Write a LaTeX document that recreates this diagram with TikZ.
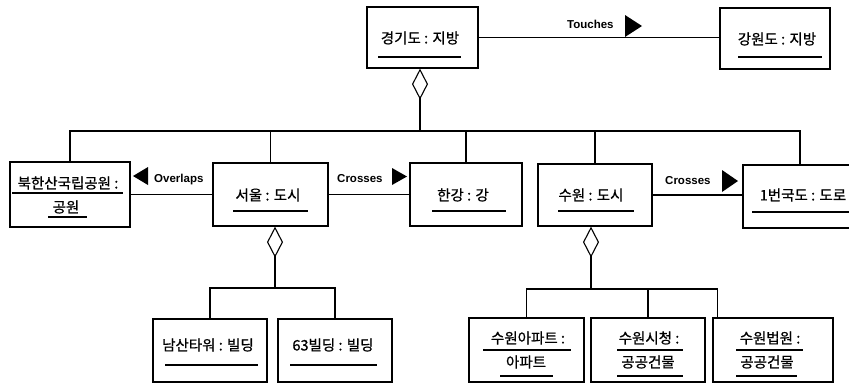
\documentclass[tikz,border=0pt]{standalone}
\usepackage{fontspec}
\setmainfont{Liberation Sans}
\newfontfamily\kr{Noto Sans CJK KR}[FakeBold=0.8]
\usetikzlibrary{arrows.meta}
\tikzset{
  obj/.style={draw, line width=1.2pt, inner sep=0pt},
  txt/.style={font=\kr\fontsize{14.5}{16}\selectfont, inner sep=0pt},
  lbl/.style={font=\bfseries\fontsize{11.5}{13}\selectfont, inner sep=0pt},
  conn/.style={line width=1.1pt},
  diam/.style={conn, {Diamond[open,length=31pt,width=16pt]}-},
  ul/.style={line width=1.1pt},
  tri/.style={fill=black}
}
\begin{document}
\begin{tikzpicture}[x=1pt,y=-1pt]
\useasboundingbox (0,0) rectangle (849,384);
\clip (0,0) rectangle (849,384);
% object boxes
\node[obj, minimum width=111pt, minimum height=61pt] (gg) at (422.5,37.5) {};
\node[obj, minimum width=110pt, minimum height=61pt] (gw) at (775,38.5) {};
\node[obj, minimum width=120pt, minimum height=65pt] (bh) at (70,194.5) {};
\node[obj, minimum width=115pt, minimum height=63pt] (se) at (270.5,194.5) {};
\node[obj, minimum width=112pt, minimum height=63pt] (hg) at (466,194.5) {};
\node[obj, minimum width=114pt, minimum height=62pt] (sw) at (595,195) {};
\node[obj, minimum width=114pt, minimum height=63pt] (ro) at (800,196.5) {};
\node[obj, minimum width=114pt, minimum height=63pt] (ns) at (210,350.5) {};
\node[obj, minimum width=114pt, minimum height=63pt] (b63) at (335,350.5) {};
\node[obj, minimum width=115pt, minimum height=64pt] (sa) at (526.5,350) {};
\node[obj, minimum width=114pt, minimum height=64pt] (sc) at (648,350) {};
\node[obj, minimum width=120pt, minimum height=64pt] (sb) at (773,350) {};
% texts
\node[txt] (gg-t) at (420,38) {경기도 : 지방};
\node[txt] (gw-t) at (777,39) {강원도 : 지방};
\node[txt] (bh-t1) at (68,183) {북한산국립공원 :};
\node[txt] (bh-t2) at (66,207) {공원};
\node[txt] (se-t) at (268,195) {서울 : 도시};
\node[txt] (hg-t) at (463,195) {한강 : 강};
\node[txt] (sw-t) at (591,195) {수원 : 도시};
\node[txt] (ro-t) at (803,195) {1번국도 : 도로};
\node[txt] (ns-t) at (208,345) {남산타워 : 빌딩};
\node[txt] (b63-t) at (333,345) {63빌딩 : 빌딩};
\node[txt] (sa-t1) at (528,338) {수원아파트 :};
\node[txt] (sa-t2) at (526,362) {아파트};
\node[txt] (sc-t1) at (649,338) {수원시청 :};
\node[txt] (sc-t2) at (648,362) {공공건물};
\node[txt] (sb-t1) at (770,338) {수원법원 :};
\node[txt] (sb-t2) at (767,362) {공공건물};
% underlines
\draw[ul] (378,57) -- (461,57);
\draw[ul] (738,57) -- (822,57);
\draw[ul] (12,193) -- (123,193);
\draw[ul] (48,217) -- (87,217);
\draw[ul] (233,211) -- (308,211);
\draw[ul] (432,211) -- (506,211);
\draw[ul] (558,211) -- (634,211);
\draw[ul] (752,212) -- (857,212);
\draw[ul] (165,365) -- (258,365);
\draw[ul] (290,365) -- (377,365);
\draw[ul] (483,350) -- (571,350);
\draw[ul] (500,376) -- (553,376);
\draw[ul] (617,350) -- (683,350);
\draw[ul] (617,376) -- (683,376);
\draw[ul] (736,350) -- (803,350);
\draw[ul] (736,376) -- (797,376);
% associations
\draw[conn] (gg.east) -- (gg.east -| gw.west);
\node[lbl, anchor=base west] (touches) at (567,28) {Touches};
\fill[tri] (625,15) -- (642,26) -- (625,37) -- cycle;
\draw[conn] (se.west) -- (se.west -| bh.east);
\node[lbl, anchor=base west] (overlaps) at (154,182) {Overlaps};
\fill[tri] (148,167) -- (133,176) -- (148,185) -- cycle;
\draw[conn] (se.east) -- (se.east -| hg.west);
\node[lbl, anchor=base west] (crosses1) at (337,182) {Crosses};
\fill[tri] (392,168) -- (407,176.5) -- (392,185) -- cycle;
\draw[conn] (sw.east) -- (sw.east -| ro.west);
\node[lbl, anchor=base west] (crosses2) at (665,184) {Crosses};
\fill[tri] (722,170) -- (738,181) -- (722,192) -- cycle;
% aggregation trees
\coordinate (ggj) at (420,131);
\draw[diam] (gg.south -| ggj) -- (ggj);
\draw[conn] (bh.north) |- (ggj) -| (ro.north);
\draw[conn] (se.north) -- (se.north |- ggj);
\draw[conn] (hg.north) -- (hg.north |- ggj);
\draw[conn] (sw.north) -- (sw.north |- ggj);
\coordinate (sej) at (275,288);
\draw[diam] (se.south -| sej) -- (sej);
\draw[conn] (ns.north) |- (sej) -| (b63.north);
\coordinate (swj) at (591,289);
\draw[diam] (sw.south -| swj) -- (swj);
\draw[conn] (sa.north) |- (swj) -| ([xshift=5pt]sb.north west);
\draw[conn] (sc.north) -- (sc.north |- swj);
\end{tikzpicture}
\end{document}
